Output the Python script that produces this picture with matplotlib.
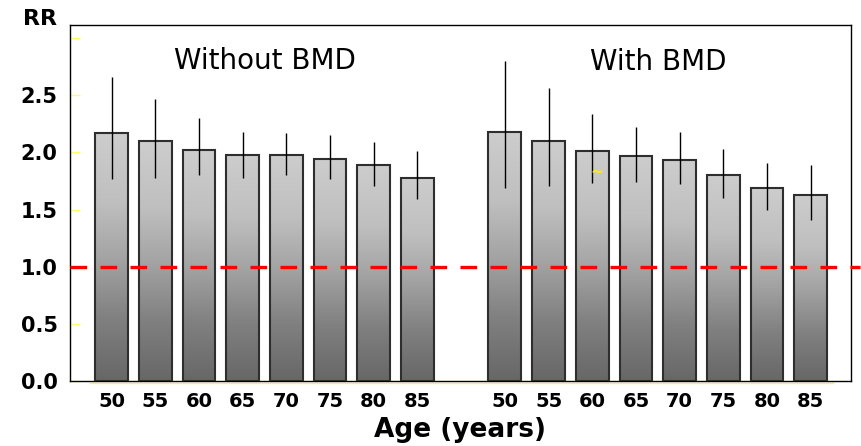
import numpy as np
import matplotlib
matplotlib.use("Agg")
import matplotlib.pyplot as plt
from matplotlib.patches import Rectangle
from matplotlib.colors import LinearSegmentedColormap

ages = ["50", "55", "60", "65", "70", "75", "80", "85"]
rr_without = [2.17, 2.10, 2.02, 1.98, 1.98, 1.94, 1.89, 1.78]
lo_without = [1.77, 1.78, 1.80, 1.78, 1.80, 1.77, 1.71, 1.59]
hi_without = [2.66, 2.47, 2.30, 2.18, 2.17, 2.15, 2.09, 2.01]
rr_with = [2.18, 2.10, 2.01, 1.97, 1.93, 1.80, 1.69, 1.63]
lo_with = [1.69, 1.71, 1.73, 1.74, 1.72, 1.60, 1.50, 1.41]
hi_with = [2.80, 2.56, 2.34, 2.22, 2.18, 2.03, 1.91, 1.89]
group_titles = ["Without BMD", "With BMD"]
ref_line = 1.0
yticks = [0.0, 0.5, 1.0, 1.5, 2.0, 2.5, 3.0]
ytick_labels = ["0.0", "0.5", "1.0", "1.5", "2.0", "2.5", ""]

plt.rcParams['font.family'] = ['DejaVu Sans']

fig = plt.figure(figsize=(8.61, 4.46), dpi=100)
ax = fig.add_axes([70/861, 1-381/446, (851-70)/861, (381-25)/446])

x_left = np.arange(len(ages))
x_right = np.arange(len(ages)) + len(ages) + 1
xs = np.concatenate([x_left, x_right])
vals = rr_without + rr_with
los = lo_without + lo_with
his = hi_without + hi_with

ax.set_xlim(-0.95, 16.92)
ax.set_ylim(0, 3.115)

cmap = LinearSegmentedColormap.from_list(
    "g", [(0.0, "#676767"), (0.25, "#808080"), (0.5, "#a4a4a4"), (0.72, "#bfbfbf"), (1.0, "#cdcdcd")])
grad = np.linspace(0, 1, 256).reshape(-1, 1)
w = 0.75
for x, v in zip(xs, vals):
    im = ax.imshow(grad, cmap=cmap, origin="lower", aspect="auto",
                   extent=(x - w/2, x + w/2, 0, v), zorder=2)
    rect = Rectangle((x - w/2, 0), w, v, facecolor="none",
                     edgecolor="#2e2e2e", linewidth=1.5, zorder=3)
    ax.add_patch(rect)
    im.set_clip_path(rect)

ax.vlines(xs, los, his, color="black", linewidth=1.0, zorder=4)

ax.plot([-0.95, 17.13], [ref_line, ref_line], color="#ff0000", linewidth=2.4,
        dashes=(5, 4), clip_on=False, zorder=5)

# faint yellow line under the baseline
ax.plot([-0.5, 16.5], [-0.014, -0.014], color="#f5f07a", linewidth=1.0,
        clip_on=False, zorder=1)

# small yellow artifact mark
ax.text(9 + 2 + 0.1, 1.83, "~", color="#ffee00", fontsize=11, fontweight="bold",
        ha="center", va="center", zorder=6)

ax.set_yticks(yticks)
ax.set_yticklabels(ytick_labels, fontsize=15, fontweight="bold")
ax.set_xticks(xs)
ax.set_xticklabels(ages + ages, fontsize=14, fontweight="bold")
ax.tick_params(axis="y", direction="in", length=7, color="#ffff66", pad=9, width=1)
ax.tick_params(axis="x", length=0, pad=8)
for s in ax.spines.values():
    s.set_color("black")
    s.set_linewidth(1.0)

ax.set_xlabel("Age (years)", fontsize=19, fontweight="bold", labelpad=4)
fig.text(57/861, 1-19/446, "RR", fontsize=16, fontweight="bold", ha="right", va="center")

ax.text(3.5, 2.80, group_titles[0], fontsize=20, ha="center", va="center")
ax.text(12.5, 2.79, group_titles[1], fontsize=20, ha="center", va="center")

fig.savefig("out.png", dpi=100)
